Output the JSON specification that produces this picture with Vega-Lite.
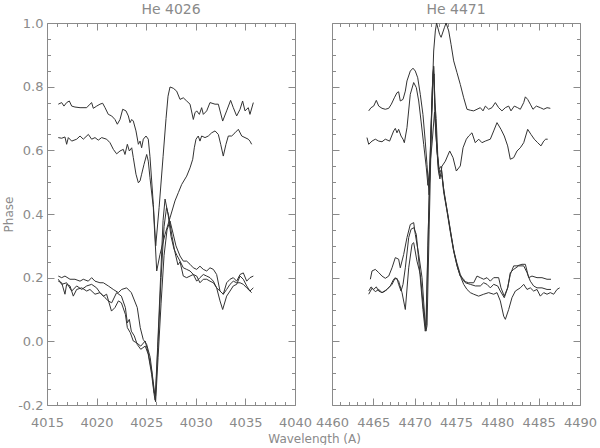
{
"$schema": "https://vega.github.io/schema/vega-lite/v6.json",
"background": "white",
"padding": {"left": 2, "top": 2, "right": 0, "bottom": 0},
"datasets": {
"left": [
{"c":"L1","wl":4016.14,"ph":0.745},{"c":"L1","wl":4016.48,"ph":0.750},{"c":"L1","wl":4016.71,"ph":0.739},{"c":"L1","wl":4016.98,"ph":0.750},{"c":"L1","wl":4017.25,"ph":0.755},{"c":"L1","wl":4017.49,"ph":0.739},{"c":"L1","wl":4017.82,"ph":0.736},{"c":"L1","wl":4018.33,"ph":0.734},{"c":"L1","wl":4019.0,"ph":0.734},{"c":"L1","wl":4019.33,"ph":0.745},{"c":"L1","wl":4019.5,"ph":0.750},{"c":"L1","wl":4019.67,"ph":0.732},{"c":"L1","wl":4020.01,"ph":0.739},{"c":"L1","wl":4020.34,"ph":0.745},{"c":"L1","wl":4020.61,"ph":0.748},{"c":"L1","wl":4020.85,"ph":0.734},{"c":"L1","wl":4021.18,"ph":0.713},{"c":"L1","wl":4021.52,"ph":0.708},{"c":"L1","wl":4021.85,"ph":0.697},{"c":"L1","wl":4022.09,"ph":0.682},{"c":"L1","wl":4022.36,"ph":0.697},{"c":"L1","wl":4022.63,"ph":0.729},{"c":"L1","wl":4022.96,"ph":0.724},{"c":"L1","wl":4023.2,"ph":0.708},{"c":"L1","wl":4023.37,"ph":0.687},{"c":"L1","wl":4023.54,"ph":0.697},{"c":"L1","wl":4023.7,"ph":0.692},{"c":"L1","wl":4023.97,"ph":0.661},{"c":"L1","wl":4024.21,"ph":0.619},{"c":"L1","wl":4024.38,"ph":0.629},{"c":"L1","wl":4024.54,"ph":0.608},{"c":"L1","wl":4024.71,"ph":0.635},{"c":"L1","wl":4024.98,"ph":0.645},{"c":"L1","wl":4025.21,"ph":0.635},{"c":"L1","wl":4025.38,"ph":0.58},{"c":"L1","wl":4025.72,"ph":0.43},{"c":"L1","wl":4025.96,"ph":0.30},{"c":"L1","wl":4026.3,"ph":0.42},{"c":"L1","wl":4026.7,"ph":0.58},{"c":"L1","wl":4027.0,"ph":0.70},{"c":"L1","wl":4027.2,"ph":0.77},{"c":"L1","wl":4027.4,"ph":0.799},{"c":"L1","wl":4027.73,"ph":0.795},{"c":"L1","wl":4028.07,"ph":0.786},{"c":"L1","wl":4028.41,"ph":0.760},{"c":"L1","wl":4028.74,"ph":0.765},{"c":"L1","wl":4029.08,"ph":0.755},{"c":"L1","wl":4029.42,"ph":0.745},{"c":"L1","wl":4029.75,"ph":0.697},{"c":"L1","wl":4029.92,"ph":0.718},{"c":"L1","wl":4030.09,"ph":0.724},{"c":"L1","wl":4030.36,"ph":0.713},{"c":"L1","wl":4030.59,"ph":0.734},{"c":"L1","wl":4030.76,"ph":0.713},{"c":"L1","wl":4031.1,"ph":0.724},{"c":"L1","wl":4031.43,"ph":0.750},{"c":"L1","wl":4031.94,"ph":0.745},{"c":"L1","wl":4032.27,"ph":0.745},{"c":"L1","wl":4032.71,"ph":0.692},{"c":"L1","wl":4033.11,"ph":0.724},{"c":"L1","wl":4033.51,"ph":0.757},{"c":"L1","wl":4033.78,"ph":0.734},{"c":"L1","wl":4034.12,"ph":0.708},{"c":"L1","wl":4034.46,"ph":0.729},{"c":"L1","wl":4034.72,"ph":0.755},{"c":"L1","wl":4034.96,"ph":0.724},{"c":"L1","wl":4035.29,"ph":0.734},{"c":"L1","wl":4035.46,"ph":0.713},{"c":"L1","wl":4035.8,"ph":0.750},
{"c":"L2","wl":4016.14,"ph":0.640},{"c":"L2","wl":4016.48,"ph":0.638},{"c":"L2","wl":4016.81,"ph":0.642},{"c":"L2","wl":4016.98,"ph":0.619},{"c":"L2","wl":4017.15,"ph":0.640},{"c":"L2","wl":4017.49,"ph":0.629},{"c":"L2","wl":4017.99,"ph":0.635},{"c":"L2","wl":4018.33,"ph":0.645},{"c":"L2","wl":4018.66,"ph":0.635},{"c":"L2","wl":4019.17,"ph":0.650},{"c":"L2","wl":4019.5,"ph":0.635},{"c":"L2","wl":4019.84,"ph":0.640},{"c":"L2","wl":4020.17,"ph":0.632},{"c":"L2","wl":4020.51,"ph":0.640},{"c":"L2","wl":4021.01,"ph":0.635},{"c":"L2","wl":4021.35,"ph":0.624},{"c":"L2","wl":4021.69,"ph":0.603},{"c":"L2","wl":4022.02,"ph":0.589},{"c":"L2","wl":4022.36,"ph":0.598},{"c":"L2","wl":4022.69,"ph":0.603},{"c":"L2","wl":4022.86,"ph":0.587},{"c":"L2","wl":4023.1,"ph":0.619},{"c":"L2","wl":4023.3,"ph":0.598},{"c":"L2","wl":4023.54,"ph":0.608},{"c":"L2","wl":4023.7,"ph":0.577},{"c":"L2","wl":4023.97,"ph":0.525},{"c":"L2","wl":4024.21,"ph":0.498},{"c":"L2","wl":4024.38,"ph":0.504},{"c":"L2","wl":4024.54,"ph":0.525},{"c":"L2","wl":4024.78,"ph":0.556},{"c":"L2","wl":4025.05,"ph":0.587},{"c":"L2","wl":4025.21,"ph":0.566},{"c":"L2","wl":4025.38,"ph":0.514},{"c":"L2","wl":4025.72,"ph":0.42},{"c":"L2","wl":4026.06,"ph":0.221},{"c":"L2","wl":4026.39,"ph":0.273},{"c":"L2","wl":4026.9,"ph":0.336},{"c":"L2","wl":4027.4,"ph":0.388},{"c":"L2","wl":4027.9,"ph":0.441},{"c":"L2","wl":4028.24,"ph":0.467},{"c":"L2","wl":4028.58,"ph":0.493},{"c":"L2","wl":4029.08,"ph":0.519},{"c":"L2","wl":4029.42,"ph":0.545},{"c":"L2","wl":4029.69,"ph":0.572},{"c":"L2","wl":4029.85,"ph":0.608},{"c":"L2","wl":4030.02,"ph":0.635},{"c":"L2","wl":4030.25,"ph":0.645},{"c":"L2","wl":4030.42,"ph":0.629},{"c":"L2","wl":4030.59,"ph":0.645},{"c":"L2","wl":4030.93,"ph":0.640},{"c":"L2","wl":4031.26,"ph":0.645},{"c":"L2","wl":4031.6,"ph":0.655},{"c":"L2","wl":4031.94,"ph":0.661},{"c":"L2","wl":4032.27,"ph":0.650},{"c":"L2","wl":4032.51,"ph":0.619},{"c":"L2","wl":4032.77,"ph":0.582},{"c":"L2","wl":4033.04,"ph":0.619},{"c":"L2","wl":4033.28,"ph":0.645},{"c":"L2","wl":4033.62,"ph":0.645},{"c":"L2","wl":4033.95,"ph":0.655},{"c":"L2","wl":4034.29,"ph":0.666},{"c":"L2","wl":4034.63,"ph":0.645},{"c":"L2","wl":4034.96,"ph":0.640},{"c":"L2","wl":4035.29,"ph":0.635},{"c":"L2","wl":4035.46,"ph":0.629},{"c":"L2","wl":4035.63,"ph":0.619},
{"c":"LA","wl":4016.14,"ph":0.205},{"c":"LA","wl":4016.48,"ph":0.200},{"c":"LA","wl":4016.81,"ph":0.205},{"c":"LA","wl":4017.32,"ph":0.195},{"c":"LA","wl":4017.82,"ph":0.195},{"c":"LA","wl":4018.33,"ph":0.189},{"c":"LA","wl":4018.66,"ph":0.195},{"c":"LA","wl":4019.16,"ph":0.189},{"c":"LA","wl":4019.5,"ph":0.200},{"c":"LA","wl":4019.84,"ph":0.189},{"c":"LA","wl":4020.34,"ph":0.184},{"c":"LA","wl":4020.68,"ph":0.184},{"c":"LA","wl":4021.18,"ph":0.174},{"c":"LA","wl":4021.68,"ph":0.163},{"c":"LA","wl":4022.19,"ph":0.153},{"c":"LA","wl":4022.53,"ph":0.163},{"c":"LA","wl":4023.03,"ph":0.168},{"c":"LA","wl":4023.5,"ph":0.153},{"c":"LA","wl":4024.1,"ph":0.106},{"c":"LA","wl":4024.4,"ph":0.043},{"c":"LA","wl":4024.7,"ph":0.006},{"c":"LA","wl":4025.05,"ph":-0.01},{"c":"LA","wl":4025.4,"ph":-0.05},{"c":"LA","wl":4025.7,"ph":-0.125},{"c":"LA","wl":4025.95,"ph":-0.19},{"c":"LA","wl":4026.2,"ph":-0.05},{"c":"LA","wl":4026.5,"ph":0.12},{"c":"LA","wl":4026.8,"ph":0.27},{"c":"LA","wl":4027.1,"ph":0.35},{"c":"LA","wl":4027.4,"ph":0.378},{"c":"LA","wl":4027.7,"ph":0.34},{"c":"LA","wl":4028.0,"ph":0.30},{"c":"LA","wl":4028.41,"ph":0.268},{"c":"LA","wl":4028.74,"ph":0.252},{"c":"LA","wl":4029.08,"ph":0.252},{"c":"LA","wl":4029.42,"ph":0.242},{"c":"LA","wl":4029.75,"ph":0.231},{"c":"LA","wl":4030.09,"ph":0.226},{"c":"LA","wl":4030.42,"ph":0.236},{"c":"LA","wl":4030.76,"ph":0.226},{"c":"LA","wl":4031.1,"ph":0.221},{"c":"LA","wl":4031.43,"ph":0.231},{"c":"LA","wl":4031.77,"ph":0.226},{"c":"LA","wl":4032.1,"ph":0.210},{"c":"LA","wl":4032.44,"ph":0.158},{"c":"LA","wl":4032.77,"ph":0.148},{"c":"LA","wl":4033.11,"ph":0.184},{"c":"LA","wl":4033.45,"ph":0.195},{"c":"LA","wl":4033.78,"ph":0.200},{"c":"LA","wl":4034.12,"ph":0.189},{"c":"LA","wl":4034.46,"ph":0.210},{"c":"LA","wl":4034.79,"ph":0.215},{"c":"LA","wl":4035.13,"ph":0.189},{"c":"LA","wl":4035.46,"ph":0.200},{"c":"LA","wl":4035.8,"ph":0.205},
{"c":"LB","wl":4016.14,"ph":0.189},{"c":"LB","wl":4016.48,"ph":0.184},{"c":"LB","wl":4016.81,"ph":0.148},{"c":"LB","wl":4016.98,"ph":0.179},{"c":"LB","wl":4017.32,"ph":0.174},{"c":"LB","wl":4017.65,"ph":0.142},{"c":"LB","wl":4017.99,"ph":0.163},{"c":"LB","wl":4018.5,"ph":0.168},{"c":"LB","wl":4019.0,"ph":0.158},{"c":"LB","wl":4019.33,"ph":0.163},{"c":"LB","wl":4019.84,"ph":0.148},{"c":"LB","wl":4020.34,"ph":0.153},{"c":"LB","wl":4020.85,"ph":0.137},{"c":"LB","wl":4021.18,"ph":0.127},{"c":"LB","wl":4021.52,"ph":0.121},{"c":"LB","wl":4022.02,"ph":0.153},{"c":"LB","wl":4022.5,"ph":0.142},{"c":"LB","wl":4022.9,"ph":0.106},{"c":"LB","wl":4023.1,"ph":0.058},{"c":"LB","wl":4023.3,"ph":0.069},{"c":"LB","wl":4023.5,"ph":0.032},{"c":"LB","wl":4023.8,"ph":0.017},{"c":"LB","wl":4024.1,"ph":-0.01},{"c":"LB","wl":4024.45,"ph":-0.025},{"c":"LB","wl":4024.9,"ph":-0.015},{"c":"LB","wl":4025.2,"ph":-0.04},{"c":"LB","wl":4025.55,"ph":-0.104},{"c":"LB","wl":4025.8,"ph":-0.167},{"c":"LB","wl":4025.9,"ph":-0.185},{"c":"LB","wl":4026.15,"ph":-0.02},{"c":"LB","wl":4026.45,"ph":0.2},{"c":"LB","wl":4026.7,"ph":0.38},{"c":"LB","wl":4026.9,"ph":0.447},{"c":"LB","wl":4027.2,"ph":0.40},{"c":"LB","wl":4027.5,"ph":0.33},{"c":"LB","wl":4027.8,"ph":0.29},{"c":"LB","wl":4028.1,"ph":0.27},{"c":"LB","wl":4028.41,"ph":0.252},{"c":"LB","wl":4028.74,"ph":0.231},{"c":"LB","wl":4029.08,"ph":0.226},{"c":"LB","wl":4029.42,"ph":0.221},{"c":"LB","wl":4029.75,"ph":0.210},{"c":"LB","wl":4030.09,"ph":0.189},{"c":"LB","wl":4030.42,"ph":0.200},{"c":"LB","wl":4030.76,"ph":0.210},{"c":"LB","wl":4031.1,"ph":0.205},{"c":"LB","wl":4031.43,"ph":0.200},{"c":"LB","wl":4031.77,"ph":0.189},{"c":"LB","wl":4032.1,"ph":0.168},{"c":"LB","wl":4032.44,"ph":0.127},{"c":"LB","wl":4032.71,"ph":0.100},{"c":"LB","wl":4033.11,"ph":0.142},{"c":"LB","wl":4033.45,"ph":0.158},{"c":"LB","wl":4033.78,"ph":0.174},{"c":"LB","wl":4034.12,"ph":0.179},{"c":"LB","wl":4034.46,"ph":0.205},{"c":"LB","wl":4034.79,"ph":0.195},{"c":"LB","wl":4035.13,"ph":0.174},{"c":"LB","wl":4035.46,"ph":0.158},{"c":"LB","wl":4035.8,"ph":0.168},
{"c":"LC","wl":4016.14,"ph":0.195},{"c":"LC","wl":4016.48,"ph":0.179},{"c":"LC","wl":4016.98,"ph":0.184},{"c":"LC","wl":4017.49,"ph":0.158},{"c":"LC","wl":4017.99,"ph":0.174},{"c":"LC","wl":4018.5,"ph":0.163},{"c":"LC","wl":4019.0,"ph":0.174},{"c":"LC","wl":4019.5,"ph":0.179},{"c":"LC","wl":4020.0,"ph":0.168},{"c":"LC","wl":4020.34,"ph":0.153},{"c":"LC","wl":4020.68,"ph":0.142},{"c":"LC","wl":4021.01,"ph":0.148},{"c":"LC","wl":4021.5,"ph":0.095},{"c":"LC","wl":4021.85,"ph":0.106},{"c":"LC","wl":4022.2,"ph":0.127},{"c":"LC","wl":4022.5,"ph":0.121},{"c":"LC","wl":4022.9,"ph":0.085},{"c":"LC","wl":4023.1,"ph":0.043},{"c":"LC","wl":4023.4,"ph":0.027},{"c":"LC","wl":4023.7,"ph":0.001},{"c":"LC","wl":4024.0,"ph":-0.004},{"c":"LC","wl":4024.45,"ph":-0.015},{"c":"LC","wl":4024.9,"ph":0.001},{"c":"LC","wl":4025.2,"ph":-0.036},{"c":"LC","wl":4025.55,"ph":-0.093},{"c":"LC","wl":4025.8,"ph":-0.161},{"c":"LC","wl":4025.95,"ph":-0.17},{"c":"LC","wl":4026.2,"ph":0.0},{"c":"LC","wl":4026.5,"ph":0.2},{"c":"LC","wl":4026.8,"ph":0.36},{"c":"LC","wl":4027.05,"ph":0.42},{"c":"LC","wl":4027.3,"ph":0.39},{"c":"LC","wl":4027.6,"ph":0.33},{"c":"LC","wl":4027.9,"ph":0.28},{"c":"LC","wl":4028.2,"ph":0.24},{"c":"LC","wl":4028.41,"ph":0.25},{"c":"LC","wl":4028.74,"ph":0.205},{"c":"LC","wl":4029.08,"ph":0.200},{"c":"LC","wl":4029.42,"ph":0.205},{"c":"LC","wl":4029.75,"ph":0.210},{"c":"LC","wl":4030.09,"ph":0.205},{"c":"LC","wl":4030.42,"ph":0.184},{"c":"LC","wl":4030.76,"ph":0.195},{"c":"LC","wl":4031.1,"ph":0.195},{"c":"LC","wl":4031.43,"ph":0.189},{"c":"LC","wl":4031.77,"ph":0.184},{"c":"LC","wl":4032.1,"ph":0.168},{"c":"LC","wl":4032.44,"ph":0.158},{"c":"LC","wl":4032.77,"ph":0.148},{"c":"LC","wl":4033.11,"ph":0.163},{"c":"LC","wl":4033.45,"ph":0.179},{"c":"LC","wl":4033.78,"ph":0.189},{"c":"LC","wl":4034.12,"ph":0.184},{"c":"LC","wl":4034.46,"ph":0.184},{"c":"LC","wl":4034.79,"ph":0.179},{"c":"LC","wl":4035.13,"ph":0.168},{"c":"LC","wl":4035.46,"ph":0.158},{"c":"LC","wl":4035.63,"ph":0.153}
],
"right": [
{"c":"R1","wl":4464.44,"ph":0.724},{"c":"R1","wl":4464.72,"ph":0.734},{"c":"R1","wl":4465.04,"ph":0.739},{"c":"R1","wl":4465.36,"ph":0.757},{"c":"R1","wl":4465.65,"ph":0.739},{"c":"R1","wl":4466.05,"ph":0.732},{"c":"R1","wl":4466.45,"ph":0.729},{"c":"R1","wl":4466.86,"ph":0.732},{"c":"R1","wl":4467.18,"ph":0.745},{"c":"R1","wl":4467.54,"ph":0.765},{"c":"R1","wl":4467.86,"ph":0.781},{"c":"R1","wl":4468.06,"ph":0.784},{"c":"R1","wl":4468.26,"ph":0.755},{"c":"R1","wl":4468.59,"ph":0.760},{"c":"R1","wl":4468.87,"ph":0.786},{"c":"R1","wl":4469.07,"ph":0.818},{"c":"R1","wl":4469.47,"ph":0.849},{"c":"R1","wl":4469.8,"ph":0.858},{"c":"R1","wl":4470.08,"ph":0.849},{"c":"R1","wl":4470.37,"ph":0.828},{"c":"R1","wl":4470.68,"ph":0.776},{"c":"R1","wl":4471.0,"ph":0.713},{"c":"R1","wl":4471.28,"ph":0.629},{"c":"R1","wl":4471.49,"ph":0.556},{"c":"R1","wl":4471.75,"ph":0.46},{"c":"R1","wl":4472.1,"ph":0.755},{"c":"R1","wl":4472.3,"ph":0.912},{"c":"R1","wl":4472.5,"ph":0.975},{"c":"R1","wl":4472.65,"ph":1.0},{"c":"R1","wl":4473.02,"ph":0.964},{"c":"R1","wl":4473.2,"ph":0.955},{"c":"R1","wl":4473.59,"ph":0.985},{"c":"R1","wl":4473.8,"ph":1.0},{"c":"R1","wl":4474.12,"ph":0.975},{"c":"R1","wl":4474.4,"ph":0.933},{"c":"R1","wl":4474.72,"ph":0.881},{"c":"R1","wl":4475.12,"ph":0.844},{"c":"R1","wl":4475.52,"ph":0.807},{"c":"R1","wl":4475.93,"ph":0.765},{"c":"R1","wl":4476.33,"ph":0.729},{"c":"R1","wl":4476.73,"ph":0.726},{"c":"R1","wl":4477.14,"ph":0.724},{"c":"R1","wl":4477.54,"ph":0.729},{"c":"R1","wl":4477.94,"ph":0.734},{"c":"R1","wl":4478.27,"ph":0.724},{"c":"R1","wl":4478.55,"ph":0.739},{"c":"R1","wl":4478.95,"ph":0.729},{"c":"R1","wl":4479.35,"ph":0.734},{"c":"R1","wl":4479.76,"ph":0.750},{"c":"R1","wl":4480.16,"ph":0.734},{"c":"R1","wl":4480.56,"ph":0.724},{"c":"R1","wl":4480.97,"ph":0.734},{"c":"R1","wl":4481.37,"ph":0.739},{"c":"R1","wl":4481.65,"ph":0.724},{"c":"R1","wl":4482.05,"ph":0.739},{"c":"R1","wl":4482.46,"ph":0.734},{"c":"R1","wl":4482.78,"ph":0.729},{"c":"R1","wl":4483.19,"ph":0.750},{"c":"R1","wl":4483.39,"ph":0.768},{"c":"R1","wl":4483.67,"ph":0.760},{"c":"R1","wl":4483.99,"ph":0.745},{"c":"R1","wl":4484.31,"ph":0.729},{"c":"R1","wl":4484.72,"ph":0.739},{"c":"R1","wl":4485.2,"ph":0.734},{"c":"R1","wl":4485.61,"ph":0.729},{"c":"R1","wl":4486.01,"ph":0.734},{"c":"R1","wl":4486.41,"ph":0.732},
{"c":"R2","wl":4464.23,"ph":0.640},{"c":"R2","wl":4464.44,"ph":0.619},{"c":"R2","wl":4464.84,"ph":0.629},{"c":"R2","wl":4465.24,"ph":0.635},{"c":"R2","wl":4465.65,"ph":0.629},{"c":"R2","wl":4466.05,"ph":0.627},{"c":"R2","wl":4466.45,"ph":0.635},{"c":"R2","wl":4466.97,"ph":0.629},{"c":"R2","wl":4467.46,"ph":0.661},{"c":"R2","wl":4467.66,"ph":0.669},{"c":"R2","wl":4467.86,"ph":0.655},{"c":"R2","wl":4468.06,"ph":0.666},{"c":"R2","wl":4468.35,"ph":0.645},{"c":"R2","wl":4468.59,"ph":0.635},{"c":"R2","wl":4468.75,"ph":0.624},{"c":"R2","wl":4469.07,"ph":0.671},{"c":"R2","wl":4469.47,"ph":0.776},{"c":"R2","wl":4469.88,"ph":0.813},{"c":"R2","wl":4470.2,"ph":0.797},{"c":"R2","wl":4470.49,"ph":0.755},{"c":"R2","wl":4470.77,"ph":0.692},{"c":"R2","wl":4471.09,"ph":0.619},{"c":"R2","wl":4471.41,"ph":0.545},{"c":"R2","wl":4471.6,"ph":0.49},{"c":"R2","wl":4472.1,"ph":0.62},{"c":"R2","wl":4472.4,"ph":0.72},{"c":"R2","wl":4472.6,"ph":0.64},{"c":"R2","wl":4472.85,"ph":0.54},{"c":"R2","wl":4473.05,"ph":0.51},{"c":"R2","wl":4473.3,"ph":0.55},{"c":"R2","wl":4473.71,"ph":0.566},{"c":"R2","wl":4474.24,"ph":0.598},{"c":"R2","wl":4474.64,"ph":0.577},{"c":"R2","wl":4475.04,"ph":0.535},{"c":"R2","wl":4475.52,"ph":0.551},{"c":"R2","wl":4475.85,"ph":0.608},{"c":"R2","wl":4476.25,"ph":0.635},{"c":"R2","wl":4476.54,"ph":0.645},{"c":"R2","wl":4476.93,"ph":0.655},{"c":"R2","wl":4477.33,"ph":0.624},{"c":"R2","wl":4477.75,"ph":0.635},{"c":"R2","wl":4478.14,"ph":0.624},{"c":"R2","wl":4478.54,"ph":0.629},{"c":"R2","wl":4479.15,"ph":0.635},{"c":"R2","wl":4479.56,"ph":0.661},{"c":"R2","wl":4479.96,"ph":0.687},{"c":"R2","wl":4480.44,"ph":0.666},{"c":"R2","wl":4480.84,"ph":0.645},{"c":"R2","wl":4481.25,"ph":0.614},{"c":"R2","wl":4481.57,"ph":0.572},{"c":"R2","wl":4481.98,"ph":0.577},{"c":"R2","wl":4482.38,"ph":0.598},{"c":"R2","wl":4482.78,"ph":0.608},{"c":"R2","wl":4483.19,"ph":0.624},{"c":"R2","wl":4483.67,"ph":0.666},{"c":"R2","wl":4484.07,"ph":0.650},{"c":"R2","wl":4484.47,"ph":0.635},{"c":"R2","wl":4484.88,"ph":0.624},{"c":"R2","wl":4485.28,"ph":0.614},{"c":"R2","wl":4485.61,"ph":0.629},{"c":"R2","wl":4485.85,"ph":0.635},{"c":"R2","wl":4486.09,"ph":0.635},
{"c":"RA","wl":4464.64,"ph":0.195},{"c":"RA","wl":4464.84,"ph":0.221},{"c":"RA","wl":4465.24,"ph":0.226},{"c":"RA","wl":4465.65,"ph":0.216},{"c":"RA","wl":4466.05,"ph":0.205},{"c":"RA","wl":4466.45,"ph":0.198},{"c":"RA","wl":4466.86,"ph":0.205},{"c":"RA","wl":4467.26,"ph":0.231},{"c":"RA","wl":4467.66,"ph":0.263},{"c":"RA","wl":4468.06,"ph":0.258},{"c":"RA","wl":4468.26,"ph":0.231},{"c":"RA","wl":4468.67,"ph":0.273},{"c":"RA","wl":4469.07,"ph":0.326},{"c":"RA","wl":4469.47,"ph":0.367},{"c":"RA","wl":4469.88,"ph":0.373},{"c":"RA","wl":4470.08,"ph":0.336},{"c":"RA","wl":4470.49,"ph":0.273},{"c":"RA","wl":4470.89,"ph":0.200},{"c":"RA","wl":4471.28,"ph":0.053},{"c":"RA","wl":4471.35,"ph":0.04},{"c":"RA","wl":4471.6,"ph":0.30},{"c":"RA","wl":4471.9,"ph":0.60},{"c":"RA","wl":4472.15,"ph":0.80},{"c":"RA","wl":4472.3,"ph":0.865},{"c":"RA","wl":4472.45,"ph":0.75},{"c":"RA","wl":4472.6,"ph":0.70},{"c":"RA","wl":4472.8,"ph":0.58},{"c":"RA","wl":4473.0,"ph":0.53},{"c":"RA","wl":4473.25,"ph":0.54},{"c":"RA","wl":4473.5,"ph":0.48},{"c":"RA","wl":4473.9,"ph":0.415},{"c":"RA","wl":4474.3,"ph":0.352},{"c":"RA","wl":4474.7,"ph":0.289},{"c":"RA","wl":4475.1,"ph":0.247},{"c":"RA","wl":4475.52,"ph":0.21},{"c":"RA","wl":4475.93,"ph":0.189},{"c":"RA","wl":4476.53,"ph":0.184},{"c":"RA","wl":4477.14,"ph":0.184},{"c":"RA","wl":4477.54,"ph":0.205},{"c":"RA","wl":4477.94,"ph":0.200},{"c":"RA","wl":4478.35,"ph":0.195},{"c":"RA","wl":4478.75,"ph":0.200},{"c":"RA","wl":4479.15,"ph":0.189},{"c":"RA","wl":4479.56,"ph":0.200},{"c":"RA","wl":4480.16,"ph":0.200},{"c":"RA","wl":4480.44,"ph":0.168},{"c":"RA","wl":4480.84,"ph":0.142},{"c":"RA","wl":4481.25,"ph":0.168},{"c":"RA","wl":4481.57,"ph":0.210},{"c":"RA","wl":4481.98,"ph":0.237},{"c":"RA","wl":4482.38,"ph":0.237},{"c":"RA","wl":4482.98,"ph":0.242},{"c":"RA","wl":4483.39,"ph":0.242},{"c":"RA","wl":4483.79,"ph":0.200},{"c":"RA","wl":4484.19,"ph":0.205},{"c":"RA","wl":4484.8,"ph":0.200},{"c":"RA","wl":4485.4,"ph":0.200},{"c":"RA","wl":4486.01,"ph":0.195},{"c":"RA","wl":4486.49,"ph":0.195},
{"c":"RB","wl":4464.44,"ph":0.158},{"c":"RB","wl":4464.72,"ph":0.171},{"c":"RB","wl":4465.04,"ph":0.163},{"c":"RB","wl":4465.36,"ph":0.171},{"c":"RB","wl":4465.65,"ph":0.158},{"c":"RB","wl":4466.05,"ph":0.153},{"c":"RB","wl":4466.45,"ph":0.158},{"c":"RB","wl":4467.05,"ph":0.174},{"c":"RB","wl":4467.46,"ph":0.195},{"c":"RB","wl":4467.86,"ph":0.198},{"c":"RB","wl":4468.06,"ph":0.179},{"c":"RB","wl":4468.35,"ph":0.158},{"c":"RB","wl":4468.59,"ph":0.179},{"c":"RB","wl":4468.87,"ph":0.231},{"c":"RB","wl":4469.28,"ph":0.326},{"c":"RB","wl":4469.56,"ph":0.352},{"c":"RB","wl":4469.88,"ph":0.357},{"c":"RB","wl":4470.2,"ph":0.336},{"c":"RB","wl":4470.61,"ph":0.221},{"c":"RB","wl":4471.0,"ph":0.10},{"c":"RB","wl":4471.28,"ph":0.032},{"c":"RB","wl":4471.4,"ph":0.05},{"c":"RB","wl":4471.65,"ph":0.35},{"c":"RB","wl":4471.95,"ph":0.65},{"c":"RB","wl":4472.2,"ph":0.84},{"c":"RB","wl":4472.3,"ph":0.86},{"c":"RB","wl":4472.45,"ph":0.72},{"c":"RB","wl":4472.65,"ph":0.62},{"c":"RB","wl":4472.9,"ph":0.54},{"c":"RB","wl":4473.2,"ph":0.55},{"c":"RB","wl":4473.5,"ph":0.47},{"c":"RB","wl":4473.9,"ph":0.41},{"c":"RB","wl":4474.3,"ph":0.345},{"c":"RB","wl":4474.7,"ph":0.285},{"c":"RB","wl":4475.1,"ph":0.24},{"c":"RB","wl":4475.5,"ph":0.205},{"c":"RB","wl":4475.93,"ph":0.195},{"c":"RB","wl":4476.13,"ph":0.184},{"c":"RB","wl":4476.73,"ph":0.179},{"c":"RB","wl":4477.34,"ph":0.174},{"c":"RB","wl":4477.94,"ph":0.174},{"c":"RB","wl":4478.35,"ph":0.184},{"c":"RB","wl":4478.75,"ph":0.179},{"c":"RB","wl":4479.15,"ph":0.168},{"c":"RB","wl":4479.56,"ph":0.179},{"c":"RB","wl":4480.04,"ph":0.174},{"c":"RB","wl":4480.36,"ph":0.158},{"c":"RB","wl":4480.84,"ph":0.137},{"c":"RB","wl":4481.25,"ph":0.168},{"c":"RB","wl":4481.57,"ph":0.216},{"c":"RB","wl":4481.98,"ph":0.226},{"c":"RB","wl":4482.58,"ph":0.237},{"c":"RB","wl":4483.19,"ph":0.237},{"c":"RB","wl":4483.59,"ph":0.216},{"c":"RB","wl":4483.99,"ph":0.189},{"c":"RB","wl":4484.39,"ph":0.174},{"c":"RB","wl":4484.8,"ph":0.168},{"c":"RB","wl":4485.4,"ph":0.168},{"c":"RB","wl":4486.01,"ph":0.163},{"c":"RB","wl":4486.49,"ph":0.163},
{"c":"RC","wl":4464.44,"ph":0.148},{"c":"RC","wl":4464.84,"ph":0.167},{"c":"RC","wl":4465.24,"ph":0.156},{"c":"RC","wl":4465.65,"ph":0.163},{"c":"RC","wl":4466.05,"ph":0.153},{"c":"RC","wl":4466.65,"ph":0.163},{"c":"RC","wl":4467.26,"ph":0.179},{"c":"RC","wl":4467.66,"ph":0.200},{"c":"RC","wl":4468.06,"ph":0.189},{"c":"RC","wl":4468.47,"ph":0.153},{"c":"RC","wl":4468.87,"ph":0.100},{"c":"RC","wl":4469.28,"ph":0.231},{"c":"RC","wl":4469.68,"ph":0.305},{"c":"RC","wl":4469.88,"ph":0.310},{"c":"RC","wl":4470.28,"ph":0.252},{"c":"RC","wl":4470.69,"ph":0.210},{"c":"RC","wl":4471.09,"ph":0.095},{"c":"RC","wl":4471.37,"ph":0.032},{"c":"RC","wl":4471.5,"ph":0.05},{"c":"RC","wl":4471.75,"ph":0.35},{"c":"RC","wl":4472.05,"ph":0.70},{"c":"RC","wl":4472.25,"ph":0.83},{"c":"RC","wl":4472.35,"ph":0.84},{"c":"RC","wl":4472.5,"ph":0.70},{"c":"RC","wl":4472.7,"ph":0.60},{"c":"RC","wl":4473.0,"ph":0.52},{"c":"RC","wl":4473.3,"ph":0.52},{"c":"RC","wl":4473.6,"ph":0.46},{"c":"RC","wl":4474.0,"ph":0.40},{"c":"RC","wl":4474.4,"ph":0.335},{"c":"RC","wl":4474.8,"ph":0.275},{"c":"RC","wl":4475.2,"ph":0.23},{"c":"RC","wl":4475.6,"ph":0.20},{"c":"RC","wl":4475.93,"ph":0.179},{"c":"RC","wl":4476.33,"ph":0.163},{"c":"RC","wl":4476.73,"ph":0.153},{"c":"RC","wl":4477.14,"ph":0.148},{"c":"RC","wl":4477.74,"ph":0.142},{"c":"RC","wl":4478.35,"ph":0.148},{"c":"RC","wl":4478.95,"ph":0.153},{"c":"RC","wl":4479.56,"ph":0.148},{"c":"RC","wl":4479.96,"ph":0.153},{"c":"RC","wl":4480.36,"ph":0.127},{"c":"RC","wl":4480.77,"ph":0.079},{"c":"RC","wl":4480.97,"ph":0.069},{"c":"RC","wl":4481.37,"ph":0.100},{"c":"RC","wl":4481.77,"ph":0.137},{"c":"RC","wl":4482.18,"ph":0.158},{"c":"RC","wl":4482.78,"ph":0.168},{"c":"RC","wl":4483.19,"ph":0.179},{"c":"RC","wl":4483.59,"ph":0.163},{"c":"RC","wl":4483.99,"ph":0.168},{"c":"RC","wl":4484.39,"ph":0.158},{"c":"RC","wl":4484.8,"ph":0.163},{"c":"RC","wl":4485.2,"ph":0.142},{"c":"RC","wl":4485.61,"ph":0.153},{"c":"RC","wl":4486.01,"ph":0.148},{"c":"RC","wl":4486.41,"ph":0.153},{"c":"RC","wl":4486.82,"ph":0.148},{"c":"RC","wl":4487.22,"ph":0.163},{"c":"RC","wl":4487.54,"ph":0.168}
]
},
"title": {"text": "Wavelength (A)", "orient": "bottom", "anchor": "middle", "frame": "bounds", "dx": 15, "font": "DejaVu Sans", "fontSize": 12, "fontWeight": "normal", "color": "#8a8a8a", "offset": 1},
"spacing": 37,
"bounds": "flush",
"hconcat": [
{
"width": 248, "height": 382,
"title": {"text": "He 4026", "offset": 0},
"data": {"name": "left"},
"layer": [
{"mark": {"type": "line", "color": "#333333", "strokeWidth": 1, "clip": true},
 "encoding": {
  "x": {"field": "wl", "type": "quantitative", "scale": {"domain": [4015, 4040], "nice": false, "zero": false},
   "axis": {"orient": "bottom", "title": null, "format": "d", "values": [4015,4016,4017,4018,4019,4020,4021,4022,4023,4024,4025,4026,4027,4028,4029,4030,4031,4032,4033,4034,4035,4036,4037,4038,4039,4040],
    "labelExpr": "datum.value % 5 === 0 ? datum.label : ''",
    "tickSize": {"condition": {"test": "datum.value % 5 === 0", "value": -7}, "value": -3.5}, "labelPadding": 18}},
  "y": {"field": "ph", "type": "quantitative", "scale": {"domain": [-0.2, 1.0], "nice": false, "zero": false},
   "axis": {"orient": "left", "title": "Phase", "values": [-0.2,-0.15,-0.1,-0.05,0,0.05,0.1,0.15,0.2,0.25,0.3,0.35,0.4,0.45,0.5,0.55,0.6,0.65,0.7,0.75,0.8,0.85,0.9,0.95,1.0],
    "labelExpr": "abs(round(datum.value*100)) % 20 === 0 ? (datum.value < 0 ? '-' : '') + format(abs(datum.value), '.1f') : ''",
    "tickSize": {"condition": {"test": "abs(round(datum.value*100)) % 20 === 0", "value": -7}, "value": -3.5}, "labelPadding": 11, "titlePadding": 2}},
  "detail": {"field": "c", "type": "nominal"}
 }},
{"mark": {"type": "line", "opacity": 0},
 "encoding": {
  "x": {"field": "wl", "type": "quantitative",
   "axis": {"orient": "top", "title": null, "labels": false, "values": [4015,4016,4017,4018,4019,4020,4021,4022,4023,4024,4025,4026,4027,4028,4029,4030,4031,4032,4033,4034,4035,4036,4037,4038,4039,4040],
    "tickSize": {"condition": {"test": "datum.value % 5 === 0", "value": -7}, "value": -3.5}}},
  "y": {"field": "ph", "type": "quantitative",
   "axis": {"orient": "right", "title": null, "labels": false, "values": [-0.2,-0.15,-0.1,-0.05,0,0.05,0.1,0.15,0.2,0.25,0.3,0.35,0.4,0.45,0.5,0.55,0.6,0.65,0.7,0.75,0.8,0.85,0.9,0.95,1.0],
    "tickSize": {"condition": {"test": "abs(round(datum.value*100)) % 20 === 0", "value": -7}, "value": -3.5}}},
  "detail": {"field": "c", "type": "nominal"}
 }}
],
"resolve": {"axis": {"x": "independent", "y": "independent"}}
},
{
"width": 248, "height": 382,
"title": {"text": "He 4471", "offset": 6},
"data": {"name": "right"},
"layer": [
{"mark": {"type": "line", "color": "#333333", "strokeWidth": 1, "clip": true},
 "encoding": {
  "x": {"field": "wl", "type": "quantitative", "scale": {"domain": [4460, 4490], "nice": false, "zero": false},
   "axis": {"orient": "bottom", "title": null, "format": "d", "values": [4460,4461,4462,4463,4464,4465,4466,4467,4468,4469,4470,4471,4472,4473,4474,4475,4476,4477,4478,4479,4480,4481,4482,4483,4484,4485,4486,4487,4488,4489,4490],
    "labelExpr": "datum.value % 5 === 0 ? datum.label : ''",
    "tickSize": {"condition": {"test": "datum.value % 5 === 0", "value": -7}, "value": -3.5}, "labelPadding": 18}},
  "y": {"field": "ph", "type": "quantitative", "scale": {"domain": [-0.2, 1.0], "nice": false, "zero": false},
   "axis": {"orient": "left", "title": null, "labels": false, "values": [-0.2,-0.15,-0.1,-0.05,0,0.05,0.1,0.15,0.2,0.25,0.3,0.35,0.4,0.45,0.5,0.55,0.6,0.65,0.7,0.75,0.8,0.85,0.9,0.95,1.0],
    "tickSize": {"condition": {"test": "abs(round(datum.value*100)) % 20 === 0", "value": -7}, "value": -3.5}}},
  "detail": {"field": "c", "type": "nominal"}
 }},
{"mark": {"type": "line", "opacity": 0},
 "encoding": {
  "x": {"field": "wl", "type": "quantitative",
   "axis": {"orient": "top", "title": null, "labels": false, "values": [4460,4461,4462,4463,4464,4465,4466,4467,4468,4469,4470,4471,4472,4473,4474,4475,4476,4477,4478,4479,4480,4481,4482,4483,4484,4485,4486,4487,4488,4489,4490],
    "tickSize": {"condition": {"test": "datum.value % 5 === 0", "value": -7}, "value": -3.5}}},
  "y": {"field": "ph", "type": "quantitative",
   "axis": {"orient": "right", "title": null, "labels": false, "values": [-0.2,-0.15,-0.1,-0.05,0,0.05,0.1,0.15,0.2,0.25,0.3,0.35,0.4,0.45,0.5,0.55,0.6,0.65,0.7,0.75,0.8,0.85,0.9,0.95,1.0],
    "tickSize": {"condition": {"test": "abs(round(datum.value*100)) % 20 === 0", "value": -7}, "value": -3.5}}},
  "detail": {"field": "c", "type": "nominal"}
 }}
],
"resolve": {"axis": {"x": "independent", "y": "independent"}}
}
],
"config": {
 "view": {"stroke": "#8a8a8a", "strokeWidth": 1},
 "axis": {"grid": false, "domain": false, "tickColor": "#8a8a8a", "tickWidth": 1, "labelColor": "#8a8a8a", "labelFont": "DejaVu Sans", "labelFontSize": 13, "titleFont": "DejaVu Sans", "titleFontSize": 12, "titleFontWeight": "normal", "titleColor": "#8a8a8a", "labelFlush": false, "labelOverlap": false, "labelBound": false},
 "title": {"font": "DejaVu Sans", "fontSize": 14, "fontWeight": "normal", "color": "#8a8a8a", "anchor": "middle"}
}
}
